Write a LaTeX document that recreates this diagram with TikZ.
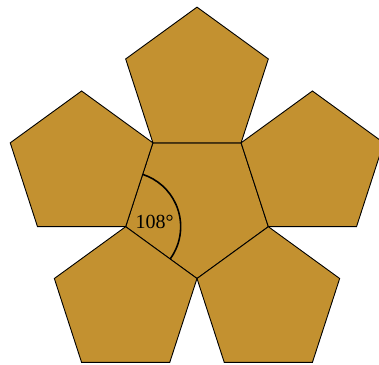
\documentclass[tikz,border=0pt]{standalone}
\usepackage{fontspec}
\setmainfont{Liberation Serif}
\usetikzlibrary{calc}
\definecolor{gold}{RGB}{195,145,48}
\begin{document}
\begin{tikzpicture}[x=1pt,y=1pt]
\tikzset{pent/.style={fill=gold, draw=black, line width=0.9pt, line join=miter}}
\useasboundingbox (0,0) rectangle (379,364);
\clip (0,0) rectangle (379,364);
\coordinate (C) at (197,160.5);
\draw[pent, shift={(C)}] (-90:75) -- (-18:75) -- (54:75) -- (126:75) -- (198:75) -- cycle;
\foreach \t in {90,18,-54,-126,162}
  \draw[pent, shift={($(C)+(\t:121.36)$)}] (90:75) -- (162:75) -- (234:75) -- (306:75) -- (18:75) -- cycle;
\coordinate (L) at ($(C)+(198:75)$);
\draw[line width=1.6pt] ($(L)+(-36:55)$) arc[start angle=-36, end angle=72, radius=55];
\node[font=\fontsize{20}{24}\selectfont, inner sep=0pt] (ang) at ($(L)+(29,5)$) {108°};
\end{tikzpicture}
\end{document}
